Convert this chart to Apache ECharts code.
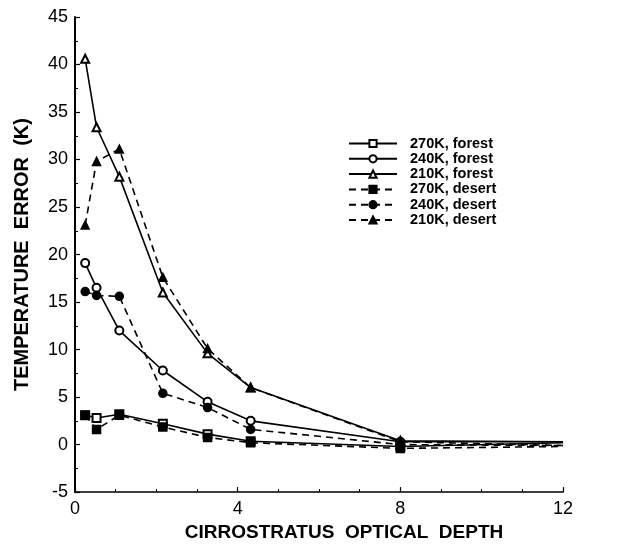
<!DOCTYPE html>
<html>
<head>
<meta charset="utf-8">
<script src="https://cdn.jsdelivr.net/npm/echarts@6/dist/echarts.min.js"></script>
<style>html,body{margin:0;padding:0;background:#fff;}#chart{width:624px;height:547px;}</style>
</head>
<body>
<div id="chart"></div>
<script>
const opticalDepth = [0.25, 0.53, 1.09, 2.16, 3.26, 4.32, 8, 12];
const forest270 = [3.1, 2.8, 3.2, 2.2, 1.1, 0.35, -0.2, 0.2];
const forest240 = [19.1, 16.5, 12.0, 7.8, 4.5, 2.5, 0.3, 0.3];
const forest210 = [40.6, 33.4, 28.2, 16.0, 9.6, 6.0, 0.4, 0.3];
const desert270 = [3.1, 1.6, 3.1, 1.85, 0.75, 0.2, -0.4, -0.2];
const desert240 = [16.1, 15.7, 15.6, 5.4, 3.9, 1.6, 0.0, -0.1];
const desert210 = [23.1, 29.8, 31.1, 17.6, 10.1, 6.0, 0.3, -0.1];
const seriesNames = ['270K, forest', '240K, forest', '210K, forest', '270K, desert', '240K, desert', '210K, desert'];
const xTickLabels = ['0', '4', '8', '12'];

const FONT = 'Liberation Sans, Arial, sans-serif';
function mk(name, vals, symbol, dashed) {
  return {
    name: name,
    type: 'line',
    data: vals.map((v, i) => {
      const item = { value: [opticalDepth[i], v] };
      if (i === vals.length - 1) item.symbol = 'none';
      return item;
    }),
    symbol: symbol,
    symbolSize: 8,
    color: '#000',
    itemStyle: { color: '#000', borderColor: '#000', borderWidth: 1.5 },
    lineStyle: { color: '#000', width: 1.6, type: dashed ? [7, 5] : 'solid' },
    animation: false,
    z: dashed ? 3 : 2
  };
}
const chart = echarts.init(document.getElementById('chart'), null, { renderer: 'canvas' });
chart.setOption({
  backgroundColor: '#fff',
  animation: false,
  grid: { left: 75, right: 61, top: 17, bottom: 51 },
  legend: {
    orient: 'vertical',
    left: 343,
    top: 131,
    itemWidth: 48,
    itemHeight: 9,
    itemGap: 0.3,
    data: seriesNames,
    textStyle: { fontFamily: FONT, fontWeight: 'bold', fontSize: 14.5, lineHeight: 15, color: '#000', padding: [0, 0, 0, 8] }
  },
  xAxis: {
    type: 'value',
    min: 0, max: 12, interval: 4,
    name: 'CIRROSTRATUS  OPTICAL  DEPTH',
    nameLocation: 'middle',
    nameGap: 27,
    nameTextStyle: { fontFamily: FONT, fontWeight: 'bold', fontSize: 19, color: '#000', padding: [0, 0, 0, 50] },
    axisLine: { show: true, onZero: false, lineStyle: { color: '#000', width: 1.6 } },
    axisTick: { show: true, inside: true, length: 5, lineStyle: { color: '#000', width: 1.2 } },
    minorTick: { show: true, splitNumber: 4, length: 3, lineStyle: { color: '#000', width: 1 } },
    splitLine: { show: false },
    axisLabel: { fontFamily: FONT, fontSize: 18, color: '#000', margin: 8,
      formatter: v => xTickLabels[Math.round(v / 4)] }
  },
  yAxis: {
    type: 'value',
    min: -5, max: 45, interval: 5,
    name: 'TEMPERATURE  ERROR  (K)',
    nameLocation: 'middle',
    nameGap: 43,
    nameTextStyle: { fontFamily: FONT, fontWeight: 'bold', fontSize: 20, color: '#000' },
    axisLine: { show: true, onZero: false, lineStyle: { color: '#000', width: 2 } },
    axisTick: { show: true, inside: true, length: 5, lineStyle: { color: '#000', width: 1.2 } },
    minorTick: { show: true, splitNumber: 2, length: 3, lineStyle: { color: '#000', width: 1 } },
    splitLine: { show: false },
    axisLabel: { fontFamily: FONT, fontSize: 18, color: '#000', margin: 7 }
  },
  series: [
    mk(seriesNames[0], forest270, 'emptyRect', false),
    mk(seriesNames[1], forest240, 'emptyCircle', false),
    mk(seriesNames[2], forest210, 'emptyTriangle', false),
    mk(seriesNames[3], desert270, 'rect', true),
    mk(seriesNames[4], desert240, 'circle', true),
    mk(seriesNames[5], desert210, 'triangle', true)
  ]
});
</script>
</body>
</html>
